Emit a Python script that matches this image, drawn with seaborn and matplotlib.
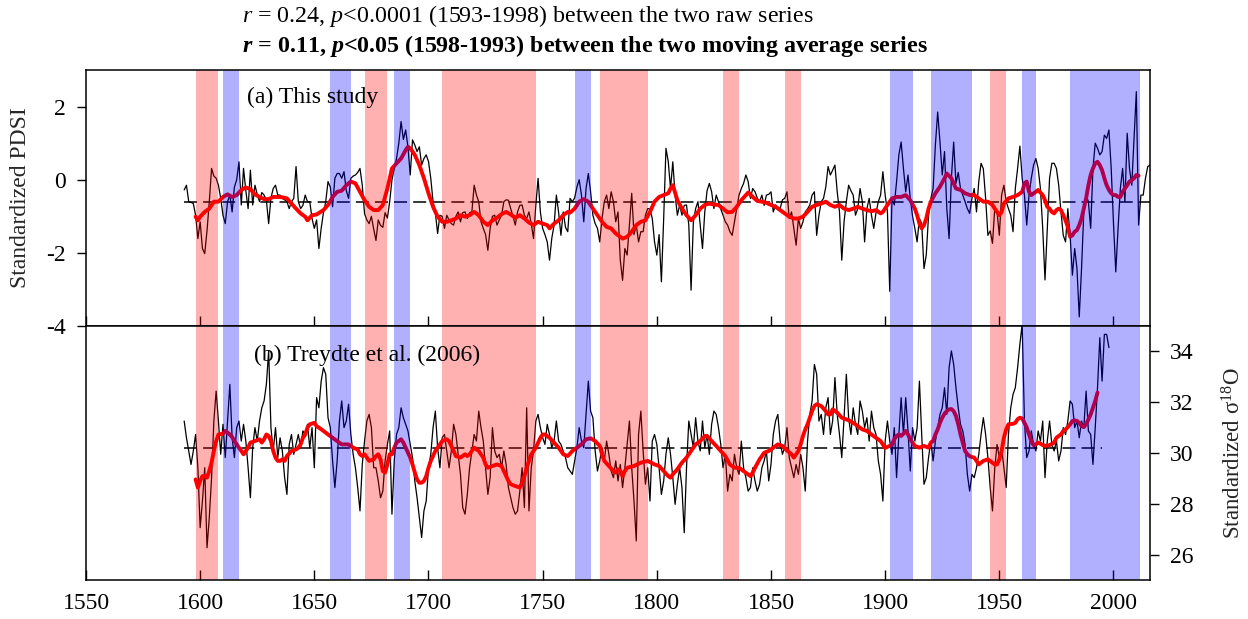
import matplotlib
matplotlib.use("Agg")
import matplotlib.pyplot as plt
import seaborn as sns

# ---------------- data ----------------
# (a) standardized PDSI, annual raw series 1593-2016
pdsi_years = list(range(1593, 2017))
pdsi_raw = [
    -0.28, -0.15, -0.60, -0.62, -0.65, -0.97, -1.61,
    -1.15, -1.88, -2.02, -1.40, -0.60, 0.31, 0.10, 0.04, -0.15, -0.51,
    -0.97, -1.20, -0.60, -0.42, -0.88, -0.20, 0.00, 0.49, -0.69, 0.31,
    -0.30, -0.79, 0.26, -0.69, -0.15, -0.40, -0.60, -0.35, -0.42, -0.56,
    -1.20, -0.50, -0.24, -0.15, -0.42, -0.42, -0.51, -0.55, -0.60, -0.79,
    -0.60, -0.51, 0.36, -0.60, -0.79, -0.70, -0.42, -0.60, -0.60, -1.06,
    -1.33, -1.10, -1.88, -1.33, -0.90, -0.60, -0.05, -0.20, -0.74, 0.04,
    0.17, 0.17, 0.04, 0.22, -0.30, -0.51, 0.04, 0.10, 0.13, 0.20,
    0.31, -0.15, -0.93, -1.10, -1.20, -1.00, -1.35, -1.66, -1.10, -1.25,
    -1.30, -0.90, -1.05, -0.60, 0.00, 0.30, 0.58, 1.00, 1.59, 1.10,
    1.36, 0.90, 0.13, 1.09, 0.95, 0.77, 0.90, 0.40, 0.58, 0.68,
    0.50, 0.04, -0.60, -0.90, -1.47, -0.97, -1.00, -1.33, -0.97, -1.10,
    -1.20, -1.24, -1.00, -0.88, -1.15, -0.90, -0.88, -1.06, -0.90, -0.88,
    -0.15, -0.42, -0.60, -1.15, -1.33, -1.50, -1.93, -1.33, -1.00, -0.97,
    -1.24, -1.10, -0.97, -0.60, -0.55, -0.56, -0.79, -1.00, -1.24, -0.88,
    -0.70, -0.69, -0.97, -1.06, -0.88, -1.20, -1.61, -0.70, 0.04, -0.88,
    -1.33, -1.50, -1.70, -2.20, -1.60, -1.24, -0.42, -0.90, -1.52, -0.88,
    -1.30, -1.42, -0.51, -0.60, -0.50, -0.20, 0.00, -0.42, -1.15, -0.24,
    0.17, -0.33, -0.97, -1.20, -1.33, -1.70, -1.06, -0.60, -0.42, -0.79,
    -0.33, -0.60, -1.15, -0.88, -2.20, -2.75, -1.88, -2.06, -1.24, -0.37,
    -1.50, -1.24, -1.70, -1.42, -1.42, -0.97, -0.79, -0.80, -1.06, -1.70,
    -2.06, -1.50, -2.79, -1.06, 0.86, 0.50, -0.24, 0.49, -0.42, -0.97,
    -0.69, -0.97, -0.70, -0.69, -1.24, -3.02, -1.15, -0.79, -0.60, -1.24,
    -1.88, -0.88, -0.30, -0.10, -0.33, -0.79, -0.42, -0.60, -0.80, -0.97,
    -1.15, -1.24, -1.42, -1.52, -1.15, -0.79, -0.42, -0.24, -0.10, 0.13,
    -0.05, -0.51, -0.24, -0.33, -0.50, -0.60, -0.42, -0.70, -0.42, -0.40,
    -0.33, -0.88, -0.69, -0.75, -0.79, -0.55, -0.51, -0.33, -1.06, -0.88,
    -1.33, -1.79, -1.06, -1.33, -1.15, -0.88, -0.80, -0.69, -0.42, -0.33,
    -1.52, -0.97, -0.60, -0.51, -0.20, 0.36, 0.13, 0.26, 0.40, -0.33,
    -0.88, -2.20, -1.15, -0.60, -0.15, -0.30, -0.42, -0.97, -0.79, -0.24,
    -0.60, -1.70, -0.79, -0.51, -0.97, -1.33, -0.90, -0.60, -0.42, 0.22,
    -0.42, -0.88, -3.05, -0.51, -0.69, -0.05, 0.68, 1.03, 0.31, -0.33,
    0.13, -0.51, -1.00, -1.33, -1.70, -1.06, -1.20, -2.43, -2.06, -0.97,
    -0.51, -0.24, 0.95, 1.85, 1.04, 0.13, 0.77, -0.79, -1.61, 0.04,
    1.03, -0.10, 0.20, -0.24, -0.42, -0.60, -0.79, -0.92, -0.51, -0.24,
    -0.88, -0.05, 0.45, 0.30, -0.51, -1.52, -1.40, -1.74, -0.79, -0.88,
    -1.52, -0.42, -0.15, -0.60, -0.79, -0.97, -1.42, -0.24, 0.31, 0.92,
    0.04, -0.42, -1.24, -0.42, 0.04, 0.40, 0.58, 0.31, -0.24, -1.33,
    -2.74, -1.33, 0.04, 0.45, 0.45, 0.31, -0.15, -0.88, -1.52, -1.70,
    -0.79, -1.52, -2.61, -1.88, -2.43, -3.75, -2.43, -0.88, -0.42, -0.60,
    -1.33, 0.31, 1.00, 0.86, 0.68, 0.77, 1.22, 1.13, 1.36, 0.30,
    -1.20, -2.52, -1.33, -0.24, 0.31, -0.60, 1.27, 0.31, -0.15, 1.13,
    2.41, -1.24, -0.42, -0.42, 0.04, 0.36, 0.40,
]
# (a) 11-year moving average
pdsi_ma_years = [
    1598, 1599, 1600, 1602, 1604, 1606, 1608, 1610, 1612, 1614, 1616, 1618, 1620,
    1622, 1624, 1626, 1628, 1630, 1632, 1634, 1636, 1638, 1640, 1642, 1644, 1646,
    1647, 1649, 1651, 1654, 1656, 1658, 1660, 1662, 1664, 1666, 1668, 1670, 1672,
    1674, 1676, 1678, 1680, 1682, 1684, 1686, 1688, 1690, 1691, 1692, 1694, 1696,
    1698, 1700, 1702, 1704, 1706, 1708, 1710, 1712, 1714, 1716, 1718, 1720, 1722,
    1724, 1726, 1728, 1730, 1732, 1734, 1736, 1738, 1740, 1742, 1744, 1746, 1748,
    1750, 1752, 1753, 1755, 1757, 1759, 1761, 1762, 1764, 1766, 1768, 1770, 1772,
    1774, 1776, 1778, 1780, 1782, 1784, 1785, 1787, 1789, 1791, 1793, 1795, 1797,
    1799, 1801, 1803, 1805, 1806, 1807, 1809, 1811, 1813, 1815, 1817, 1819, 1821,
    1823, 1825, 1827, 1829, 1831, 1833, 1835, 1837, 1839, 1840, 1842, 1844, 1846,
    1848, 1850, 1852, 1854, 1856, 1858, 1860, 1862, 1864, 1866, 1868, 1870, 1872,
    1874, 1876, 1878, 1880, 1882, 1884, 1886, 1888, 1890, 1892, 1894, 1896, 1898,
    1899, 1901, 1903, 1905, 1907, 1909, 1911, 1913, 1914, 1915, 1916, 1917, 1918,
    1919, 1920, 1922, 1924, 1926, 1927, 1929, 1931, 1933, 1935, 1937, 1939, 1941,
    1943, 1945, 1947, 1948, 1949, 1950, 1951, 1952, 1954, 1956, 1958, 1960, 1961,
    1962, 1963, 1964, 1966, 1967, 1969, 1970, 1971, 1972, 1973, 1974, 1975, 1976,
    1977, 1978, 1979, 1980, 1981, 1982, 1983, 1984, 1985, 1986, 1987, 1988, 1989,
    1990, 1991, 1992, 1993, 1994, 1995, 1996, 1997, 1998, 1999, 2000, 2001, 2002,
    2003, 2004, 2005, 2006, 2007, 2008, 2009, 2010, 2011,
]
pdsi_ma = [
    -1.01, -1.11, -1.01, -0.88, -0.79, -0.60, -0.60, -0.47, -0.40, -0.47, -0.42, -0.28, -0.21,
    -0.26, -0.40, -0.47, -0.53, -0.53, -0.47, -0.47, -0.48, -0.51, -0.65, -0.79, -0.92, -1.01,
    -1.11, -0.97, -0.95, -0.83, -0.69, -0.47, -0.33, -0.30, -0.15, -0.05, -0.10, -0.33, -0.56,
    -0.74, -0.83, -0.83, -0.69, -0.24, 0.31, 0.45, 0.58, 0.81, 0.90, 0.86, 0.68, 0.40,
    0.04, -0.37, -0.74, -1.01, -1.15, -1.15, -1.11, -1.06, -0.97, -1.01, -0.97, -0.88, -0.97,
    -1.15, -1.24, -1.11, -1.04, -0.94, -0.88, -0.95, -1.04, -0.97, -1.06, -1.17, -1.24, -1.15,
    -1.20, -1.24, -1.33, -1.20, -1.11, -0.97, -0.88, -0.90, -0.79, -0.60, -0.53, -0.60, -0.79,
    -0.97, -1.15, -1.29, -1.33, -1.47, -1.56, -1.61, -1.56, -1.42, -1.24, -1.15, -1.11, -0.88,
    -0.60, -0.47, -0.42, -0.37, -0.24, -0.15, -0.56, -0.79, -0.97, -1.11, -0.97, -0.79, -0.69,
    -0.65, -0.68, -0.69, -0.79, -0.89, -0.88, -0.74, -0.56, -0.42, -0.35, -0.47, -0.58, -0.60,
    -0.63, -0.69, -0.74, -0.83, -0.92, -1.01, -1.06, -1.06, -1.01, -0.88, -0.74, -0.69, -0.65,
    -0.60, -0.69, -0.74, -0.69, -0.79, -0.83, -0.79, -0.74, -0.79, -0.83, -0.86, -0.83, -0.92,
    -0.88, -0.69, -0.51, -0.47, -0.47, -0.42, -0.56, -0.79, -0.97, -1.20, -1.33, -1.24, -1.06,
    -0.79, -0.60, -0.37, -0.19, 0.04, 0.17, 0.04, -0.24, -0.28, -0.37, -0.42, -0.42, -0.51,
    -0.60, -0.60, -0.69, -0.79, -0.88, -0.97, -0.88, -0.65, -0.51, -0.47, -0.42, -0.33, -0.10,
    -0.05, -0.33, -0.42, -0.33, -0.28, -0.42, -0.56, -0.74, -0.79, -0.88, -0.92, -0.83, -0.79,
    -0.83, -0.97, -1.11, -1.29, -1.56, -1.52, -1.42, -1.38, -1.24, -1.06, -0.79, -0.51, -0.15,
    0.13, 0.31, 0.45, 0.49, 0.40, 0.26, 0.04, -0.15, -0.28, -0.37, -0.42, -0.42, -0.47,
    -0.47, -0.33, -0.24, -0.15, -0.05, -0.01, 0.04, 0.13, 0.11,
]
pdsi_mean = -0.62
pdsi_mean_span = (1593, 2016)

# (b) Treydte et al. (2006) d18O, annual raw series 1593-1998
o18_years = list(range(1593, 1999))
o18_raw = [
    31.26, 30.60, 30.08, 29.55, 30.08, 30.73, 29.42,
    27.06, 28.11, 29.42, 26.27, 27.45, 29.03, 31.26, 32.44, 31.26, 29.95,
    31.13, 29.82, 31.26, 32.70, 30.60, 29.82, 31.00, 31.26, 30.47, 31.13,
    30.47, 29.42, 28.24, 30.21, 31.00, 30.47, 31.26, 31.78, 32.05, 32.70,
    34.02, 31.00, 30.08, 31.00, 29.82, 30.60, 30.08, 29.03, 28.37, 30.34,
    30.73, 29.95, 30.34, 30.73, 30.21, 30.87, 30.73, 31.13, 30.21, 31.00,
    29.42, 32.18, 31.78, 32.83, 33.36, 33.10, 31.39, 31.00, 29.69, 28.64,
    29.69, 31.26, 32.05, 31.00, 31.26, 31.92, 30.73, 29.95, 29.42, 28.64,
    27.72, 29.55, 30.47, 31.26, 31.52, 31.00, 29.42, 29.42, 28.90, 28.24,
    28.50, 29.69, 30.34, 30.87, 27.59, 29.69, 30.73, 31.00, 31.78, 31.39,
    31.13, 30.87, 30.34, 29.82, 28.90, 28.24, 27.45, 26.67, 27.72, 28.11,
    29.42, 29.95, 31.00, 31.65, 30.21, 29.42, 30.60, 30.73, 30.08, 29.42,
    30.08, 31.13, 30.73, 29.95, 29.16, 27.85, 27.59, 28.37, 29.42, 30.08,
    30.73, 30.47, 31.65, 31.00, 30.47, 29.42, 28.37, 29.03, 31.00, 30.08,
    29.82, 29.95, 29.42, 30.08, 29.55, 28.64, 28.24, 27.85, 27.59, 27.72,
    28.50, 29.42, 27.85, 31.78, 27.72, 29.42, 30.08, 31.26, 31.52, 31.00,
    30.60, 30.34, 31.13, 30.73, 30.21, 30.47, 31.26, 30.47, 30.34, 30.08,
    29.82, 29.42, 29.29, 29.16, 29.69, 30.21, 31.00, 30.47, 30.21, 31.52,
    32.83, 31.65, 31.39, 30.08, 29.29, 29.69, 30.21, 29.69, 30.47, 29.95,
    29.29, 29.03, 29.69, 28.90, 29.55, 28.64, 29.42, 30.34, 31.26, 29.42,
    28.11, 26.54, 30.73, 31.65, 30.08, 28.77, 29.42, 28.11, 30.47, 30.73,
    30.34, 29.42, 28.37, 28.90, 29.95, 30.60, 29.95, 29.03, 27.98, 28.77,
    29.42, 28.64, 26.86, 29.42, 31.26, 30.73, 30.21, 31.39, 30.47, 30.08,
    31.26, 30.21, 30.73, 29.95, 31.13, 31.65, 31.52, 31.00, 30.34, 29.42,
    29.95, 28.50, 29.16, 28.90, 29.95, 29.42, 29.16, 30.47, 29.42, 29.03,
    28.50, 28.64, 29.42, 28.90, 28.50, 28.77, 29.42, 29.69, 30.08, 28.90,
    29.55, 30.73, 31.26, 31.52, 30.47, 29.95, 30.21, 31.00, 29.82, 29.42,
    29.03, 29.55, 29.16, 29.95, 29.42, 28.50, 30.47, 31.52, 32.05, 33.49,
    33.10, 31.26, 31.52, 30.73, 31.78, 32.18, 30.73, 31.26, 32.97, 31.52,
    30.73, 29.82, 31.39, 33.10, 31.39, 30.73, 31.78, 31.13, 30.73, 32.05,
    31.65, 31.00, 31.39, 30.47, 31.65, 31.00, 30.73, 29.69, 29.16, 28.11,
    30.47, 31.26, 30.47, 29.95, 31.00, 29.03, 30.73, 32.18, 30.73, 32.18,
    30.87, 29.29, 31.00, 30.47, 31.00, 32.83, 30.73, 28.77, 29.03, 29.82,
    30.47, 29.69, 30.47, 31.00, 31.52, 31.78, 32.57, 31.52, 33.36, 34.02,
    33.49, 32.57, 31.78, 31.13, 30.87, 30.34, 29.16, 28.50, 29.16, 29.03,
    29.42, 29.95, 30.73, 31.39, 30.73, 29.82, 28.64, 27.72, 29.42, 30.34,
    29.82, 30.21, 29.42, 28.64, 30.73, 31.78, 32.31, 32.57, 33.36, 34.28,
    35.07, 31.26, 29.82, 30.08, 30.87, 30.34, 30.08, 30.87, 30.47, 31.26,
    29.03, 30.47, 31.26, 30.34, 30.08, 30.47, 29.69, 30.08, 31.00, 30.73,
    31.26, 32.05, 31.92, 31.00, 31.26, 30.60, 31.26, 31.00, 32.44, 30.87,
    30.73, 29.55, 31.00, 32.57, 34.54, 32.83, 34.67, 34.67, 34.15,
]
# (b) 11-year moving average
o18_ma_years = [
    1598, 1599, 1600, 1601, 1602, 1603, 1604, 1605, 1606, 1607, 1608, 1610, 1611,
    1612, 1613, 1614, 1615, 1617, 1618, 1619, 1620, 1621, 1622, 1624, 1626, 1627,
    1628, 1629, 1630, 1631, 1632, 1633, 1634, 1635, 1636, 1637, 1638, 1640, 1642,
    1643, 1644, 1645, 1646, 1647, 1648, 1650, 1651, 1652, 1654, 1656, 1658, 1660,
    1662, 1665, 1667, 1669, 1670, 1671, 1672, 1674, 1676, 1677, 1678, 1679, 1680,
    1681, 1682, 1683, 1684, 1685, 1686, 1688, 1689, 1690, 1691, 1692, 1693, 1694,
    1695, 1696, 1697, 1698, 1699, 1700, 1701, 1702, 1703, 1704, 1705, 1706, 1708,
    1709, 1710, 1711, 1712, 1714, 1716, 1717, 1718, 1720, 1721, 1722, 1723, 1724,
    1725, 1726, 1728, 1730, 1732, 1733, 1734, 1735, 1736, 1738, 1740, 1741, 1742,
    1743, 1744, 1745, 1746, 1747, 1748, 1749, 1750, 1751, 1753, 1755, 1757, 1759,
    1761, 1763, 1765, 1767, 1769, 1771, 1773, 1775, 1776, 1777, 1779, 1781, 1782,
    1783, 1784, 1785, 1786, 1787, 1790, 1793, 1796, 1799, 1801, 1803, 1805, 1806,
    1807, 1809, 1811, 1813, 1815, 1817, 1819, 1821, 1822, 1824, 1826, 1828, 1830,
    1832, 1834, 1836, 1838, 1840, 1841, 1842, 1843, 1845, 1847, 1849, 1851, 1853,
    1855, 1857, 1859, 1860, 1861, 1862, 1863, 1864, 1865, 1866, 1867, 1868, 1869,
    1870, 1872, 1874, 1875, 1876, 1877, 1879, 1881, 1884, 1887, 1890, 1892, 1894,
    1896, 1898, 1900, 1902, 1903, 1904, 1905, 1906, 1907, 1908, 1909, 1910, 1911,
    1912, 1913, 1915, 1917, 1919, 1920, 1921, 1922, 1923, 1924, 1925, 1926, 1927,
    1928, 1929, 1930, 1931, 1932, 1933, 1934, 1935, 1936, 1937, 1938, 1939, 1940,
    1941, 1943, 1945, 1947, 1948, 1949, 1950, 1951, 1952, 1953, 1954, 1956, 1957,
    1958, 1959, 1960, 1961, 1962, 1963, 1964, 1965, 1966, 1967, 1968, 1969, 1970,
    1972, 1974, 1975, 1976, 1977, 1978, 1979, 1980, 1981, 1982, 1983, 1984, 1985,
    1986, 1987, 1988, 1989, 1990, 1991, 1992, 1993,
]
o18_ma = [
    28.96, 28.64, 28.90, 29.09, 29.09, 29.03, 29.29, 29.62, 30.08, 30.47, 30.73, 30.76, 30.87,
    30.80, 30.73, 30.63, 30.47, 30.21, 30.08, 29.95, 30.08, 30.21, 30.41, 30.47, 30.54, 30.41,
    30.54, 30.73, 30.67, 30.47, 30.08, 29.82, 29.69, 29.69, 29.75, 29.69, 29.88, 30.08, 30.14,
    30.21, 30.34, 30.60, 30.73, 31.00, 31.13, 31.19, 31.06, 31.00, 30.87, 30.73, 30.60, 30.47,
    30.34, 30.34, 30.21, 30.14, 29.95, 29.88, 29.95, 29.69, 29.75, 29.88, 29.95, 29.75, 29.29,
    29.23, 29.55, 29.95, 29.95, 30.21, 30.41, 30.54, 30.41, 30.21, 30.01, 29.82, 29.55, 29.23,
    28.96, 28.83, 28.83, 28.90, 29.09, 29.42, 29.69, 29.88, 30.08, 30.21, 30.34, 30.47, 30.54,
    30.47, 30.28, 30.08, 29.88, 29.82, 29.95, 29.88, 29.95, 30.21, 30.14, 30.08, 29.95, 29.82,
    29.55, 29.42, 29.49, 29.55, 29.49, 29.29, 29.09, 28.90, 28.77, 28.70, 28.64, 28.83, 29.09,
    29.42, 29.69, 29.95, 30.08, 30.21, 30.41, 30.60, 30.73, 30.73, 30.60, 30.41, 30.21, 29.95,
    29.88, 30.08, 30.21, 30.34, 30.54, 30.58, 30.47, 30.28, 29.95, 29.69, 29.49, 29.29, 29.23,
    29.36, 29.29, 29.09, 29.29, 29.42, 29.49, 29.62, 29.69, 29.55, 29.49, 29.29, 29.09, 29.03,
    29.16, 29.36, 29.62, 29.82, 30.08, 30.34, 30.47, 30.67, 30.67, 30.47, 30.28, 30.08, 29.88,
    29.55, 29.42, 29.42, 29.29, 29.16, 29.09, 29.23, 29.42, 29.75, 30.01, 30.08, 30.21, 30.34,
    30.28, 30.10, 29.95, 29.82, 29.95, 30.08, 30.34, 30.67, 30.93, 31.13, 31.39, 31.65, 31.85,
    31.92, 31.85, 31.65, 31.52, 31.52, 31.72, 31.59, 31.39, 31.29, 31.13, 30.93, 30.87, 30.73,
    30.60, 30.47, 30.20, 30.28, 30.34, 30.54, 30.67, 30.73, 30.67, 30.76, 30.87, 30.73, 30.54,
    30.41, 30.28, 30.21, 30.28, 30.21, 30.41, 30.47, 30.73, 30.93, 31.19, 31.39, 31.55, 31.65,
    31.72, 31.73, 31.65, 31.46, 31.13, 30.73, 30.41, 30.08, 29.95, 29.88, 29.84, 29.82, 29.69,
    29.55, 29.69, 29.75, 29.62, 29.55, 29.55, 29.75, 30.08, 30.60, 30.93, 31.13, 31.15, 31.19,
    31.33, 31.39, 31.36, 31.19, 31.00, 30.73, 30.47, 30.31, 30.34, 30.41, 30.37, 30.31, 30.28,
    30.31, 30.41, 30.60, 30.67, 30.73, 30.87, 30.93, 31.02, 31.13, 31.26, 31.29, 31.26, 31.19,
    31.06, 31.02, 31.13, 31.33, 31.52, 31.78, 32.05, 32.38,
]
o18_mean = 30.2
o18_mean_span = (1593, 1995)

# shaded periods (start year, end year)
wet_periods = [(1598, 1608), (1672, 1682), (1706, 1747), (1775, 1796),
               (1829, 1836), (1856, 1863), (1946, 1953)]
dry_periods = [(1610, 1617), (1657, 1666), (1685, 1692), (1764, 1771),
               (1902, 1912), (1920, 1938), (1960, 1966), (1981, 2011.5)]

x_ticks = [1550, 1600, 1650, 1700, 1750, 1800, 1850, 1900, 1950, 2000]
pdsi_ticks = [-4, -2, 0, 2]
o18_ticks = [26, 28, 30, 32, 34]

title_1 = r"$\mathit{r}$ = 0.24, $\mathit{p}$<0.0001 (1593-1998) between the two raw series"
title_2 = r"$\mathbfit{r}$ = 0.11, $\mathbfit{p}$<0.05 (1598-1993) between the two moving average series"
label_a = "(a) This study"
label_b = "(b) Treydte et al. (2006)"

# ---------------- style ----------------
sns.set_theme(style="ticks")
plt.rcParams.update({
    "font.family": ["Liberation Serif", "DejaVu Serif"],
    "mathtext.fontset": "custom",
    "mathtext.rm": "Liberation Serif",
    "mathtext.it": "Liberation Serif:italic",
    "mathtext.bf": "Liberation Serif:bold",
    "mathtext.bfit": "Liberation Serif:bold:italic",
    "axes.unicode_minus": False,
    "axes.edgecolor": "black",
    "axes.linewidth": 1.1,
    "xtick.color": "black",
    "ytick.color": "black",
    "text.color": "black",
})

FS = 17
fig = plt.figure(figsize=(12.48, 6.19), dpi=100)
ax1 = fig.add_axes([0.0689, 0.4733, 0.8526, 0.4136])
ax2 = fig.add_axes([0.0689, 0.0630, 0.8526, 0.4103])

dash = (0, (8.5, 4))

# panel (a)
sns.lineplot(x=pdsi_years, y=pdsi_raw, ax=ax1, color="black", linewidth=0.9,
             estimator=None, legend=False, zorder=2)
ax1.hlines(pdsi_mean, pdsi_mean_span[0], pdsi_mean_span[1], colors="black",
           linestyles=dash, linewidth=1.1, zorder=2)
sns.lineplot(x=pdsi_ma_years, y=pdsi_ma, ax=ax1, color="#ff0000", linewidth=2.8,
             estimator=None, legend=False, zorder=3)

# panel (b)
sns.lineplot(x=o18_years, y=o18_raw, ax=ax2, color="black", linewidth=0.9,
             estimator=None, legend=False, zorder=2)
ax2.hlines(o18_mean, o18_mean_span[0], o18_mean_span[1], colors="black",
           linestyles=dash, linewidth=1.1, zorder=2)
sns.lineplot(x=o18_ma_years, y=o18_ma, ax=ax2, color="#ff0000", linewidth=2.8,
             estimator=None, legend=False, zorder=3)

for ax in (ax1, ax2):
    for s, e in wet_periods:
        ax.axvspan(s, e, color="#ff0000", alpha=0.31, lw=0, zorder=5)
    for s, e in dry_periods:
        ax.axvspan(s, e, color="#0000ff", alpha=0.31, lw=0, zorder=5)
    ax.set_xlim(1550, 2016)
    ax.set_xticks(x_ticks)
    for sp in ax.spines.values():
        sp.set_visible(True)
        sp.set_linewidth(1.1)
        sp.set_color("black")
        sp.set_zorder(6)

ax1.set_ylim(-4, 3)
ax1.set_yticks(pdsi_ticks)
ax1.tick_params(axis="x", direction="in", length=7, width=1, labelbottom=False)
ax1.tick_params(axis="y", direction="out", length=6.5, width=1, pad=8, labelsize=FS)
ax1.set_ylabel("Standardized PDSI", fontsize=FS)
ax1.yaxis.label.set_va("center")
ax1.yaxis.set_label_coords(-0.062, 0.5)
ax1.set_xlabel("")
ax1.text(0.1513, 0.894, label_a, transform=ax1.transAxes, fontsize=FS,
         ha="left", va="center", zorder=7)

ax2.set_ylim(25, 35)
ax2.yaxis.tick_right()
ax2.yaxis.set_label_position("right")
ax2.set_yticks(o18_ticks)
ax2.tick_params(axis="x", direction="in", length=7, width=1, pad=9, labelsize=FS)
ax2.tick_params(axis="y", direction="out", length=6.5, width=1, pad=8, labelsize=FS,
                left=False, right=True)
ax2.set_ylabel(r"Standardized σ$^{18}$O", fontsize=16.5)
ax2.yaxis.label.set_va("center")
ax2.yaxis.set_label_coords(1.0785, 0.5)
ax2.set_xlabel("")
ax2.text(0.158, 0.886, label_b, transform=ax2.transAxes, fontsize=FS,
         ha="left", va="center", zorder=7)

fig.text(242 / 1248, 1 - 16 / 619, title_1, fontsize=17.3, ha="left", va="center")
fig.text(242 / 1248, 1 - 46 / 619, title_2, fontsize=17.3, ha="left", va="center",
         fontweight="bold")

fig.savefig("out.png", dpi=100, facecolor="white")
